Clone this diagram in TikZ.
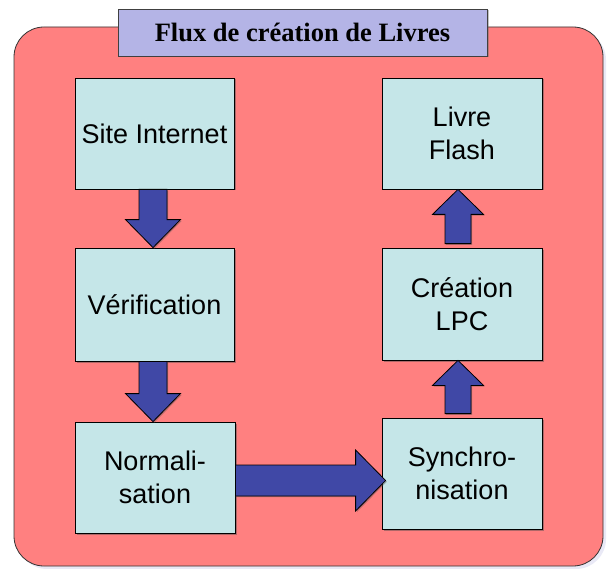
\documentclass[tikz,border=0pt]{standalone}
\usepackage{fontspec}
\setmainfont{Liberation Sans}
\newfontfamily\titlefont{Liberation Serif}
\usetikzlibrary{shadows,calc}
\definecolor{bgred}{RGB}{255,128,128}
\definecolor{boxfill}{RGB}{197,230,232}
\definecolor{arrowblue}{RGB}{64,72,166}
\definecolor{titlefill}{RGB}{180,180,230}
\tikzset{
  stagebox/.style={draw=black, line width=0.8pt, fill=boxfill, inner sep=0pt,
    align=center, font=\fontsize{27}{33}\selectfont,
    drop shadow={shadow xshift=1.5pt, shadow yshift=-1.5pt, opacity=0.45, fill=black!70}},
  flowarrow/.style={draw=black, line width=0.8pt, fill=arrowblue, line join=miter,
    drop shadow={shadow xshift=1.2pt, shadow yshift=-1.2pt, opacity=0.4, fill=black!70}},
}
\newcommand\myDownArrow[2]{%
  \path[flowarrow] let \p1=($(#1.south)+(-1.5,0)$), \p2=(#2.north) in
    (\x1-14pt,\y1) -- (\x1+14pt,\y1) -- (\x1+14pt,\y2+28pt) -- (\x1+27.5pt,\y2+28pt)
    -- (\x1,\y2) -- (\x1-27.5pt,\y2+28pt) -- (\x1-14pt,\y2+28pt) -- cycle;}
\newcommand\myUpArrow[2]{%
  \path[flowarrow] let \p1=($(#1.north)+(-4,0)$), \p2=(#2.south) in
    (\x1-13pt,\y1+4pt) -- (\x1+13pt,\y1+4pt) -- (\x1+13pt,\y2-25pt) -- (\x1+25.5pt,\y2-25pt)
    -- (\x1,\y2) -- (\x1-25.5pt,\y2-25pt) -- (\x1-13pt,\y2-25pt) -- cycle;}
\begin{document}
\begin{tikzpicture}[x=1pt,y=-1pt]
\useasboundingbox (0,0) rectangle (612,569);
% background panel
\path[draw=black!80, line width=0.8pt, fill=bgred, rounded corners=30pt,
  drop shadow={shadow xshift=3pt, shadow yshift=-3pt, opacity=0.4, fill=gray!60!blue!30}]
  (14,27) rectangle (603,566);
% title
\node[draw=black!75, line width=0.8pt, fill=titlefill, minimum width=369pt, minimum height=47pt,
  inner sep=0pt, font=\titlefont\bfseries\fontsize{26.5}{30}\selectfont,
  drop shadow={shadow xshift=1.5pt, shadow yshift=-1.5pt, opacity=0.4, fill=black!60}]
  (title) at (302.5,32.5) {Flux de création de Livres};
% stages
\node[stagebox, minimum width=159pt, minimum height=111pt] (site) at (154.5,133.5) {Site Internet};
\node[stagebox, minimum width=159pt, minimum height=113pt] (verif) at (154.5,304.5) {Vérification};
\node[stagebox, minimum width=160pt, minimum height=111pt] (norm) at (155,477.5) {Normali-\\sation};
\node[stagebox, minimum width=160pt, minimum height=111pt] (flash) at (462,133.5) {Livre\\Flash};
\node[stagebox, minimum width=160pt, minimum height=112pt] (lpc) at (462,304) {Création\\LPC};
\node[stagebox, minimum width=160pt, minimum height=111pt] (sync) at (462,473.5) {Synchro-\\nisation};
% arrows
\myDownArrow{site}{verif}
\myDownArrow{verif}{norm}
\myUpArrow{lpc}{flash}
\myUpArrow{sync}{lpc}
\path[flowarrow] let \p1=($(norm.east)+(0,3)$), \p2=(sync.west) in
  (\x1,\y1+15.5pt) -- (\x2-26pt,\y1+15.5pt) -- (\x2-26pt,\y1+30.5pt) -- (\x2+4pt,\y1)
  -- (\x2-26pt,\y1-30.5pt) -- (\x2-26pt,\y1-15.5pt) -- (\x1,\y1-15.5pt) -- cycle;
\end{tikzpicture}
\end{document}
